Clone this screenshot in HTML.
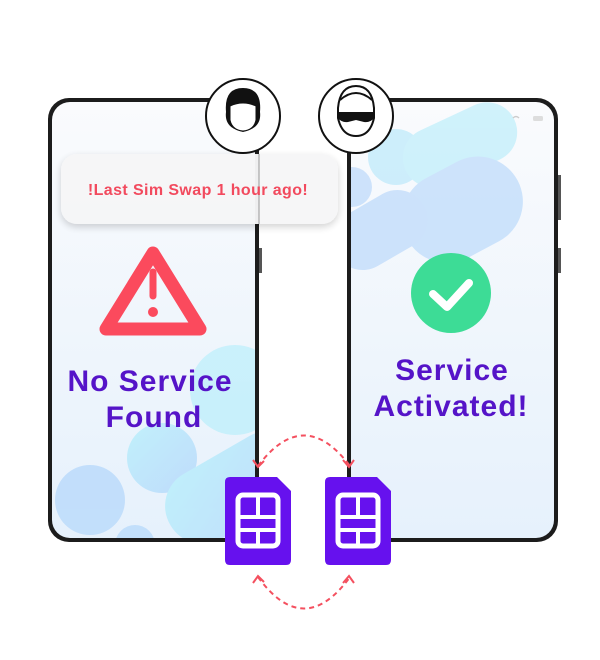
<!DOCTYPE html>
<html><head><style>
body{margin:0;width:600px;height:655px;background:#fff;overflow:hidden;font-family:"Liberation Sans",sans-serif}
</style></head><body>
<svg width="600" height="655" viewBox="0 0 600 655" xmlns="http://www.w3.org/2000/svg">
<defs>
<linearGradient id="scr" x1="0" y1="0" x2="0" y2="1"><stop offset="0" stop-color="#fafbfd"/><stop offset="1" stop-color="#e6f1fc"/></linearGradient>
<linearGradient id="blob" x1="0" y1="0" x2="1" y2="1"><stop offset="0" stop-color="#b3f0fb"/><stop offset="1" stop-color="#b2d4fb"/></linearGradient>
<clipPath id="cl"><rect x="52" y="102" width="203" height="436" rx="18"/></clipPath>
<clipPath id="cr"><rect x="351" y="102" width="203" height="436" rx="18"/></clipPath>
<filter id="sh" x="-20%" y="-30%" width="140%" height="170%"><feDropShadow dx="0" dy="3" stdDeviation="4" flood-color="#000" flood-opacity="0.18"/></filter>
</defs>
<rect x="48" y="98" width="211" height="444" rx="21" fill="#1c1c1c"/>
<rect x="52" y="102" width="203" height="436" rx="18" fill="url(#scr)"/>
<rect x="347" y="98" width="211" height="444" rx="21" fill="#1c1c1c"/>
<rect x="351" y="102" width="203" height="436" rx="18" fill="url(#scr)"/>
<rect x="558" y="175" width="3" height="45" fill="#555"/>
<rect x="558" y="248" width="3" height="25" fill="#555"/>
<rect x="259" y="248" width="3" height="25" fill="#555"/>
<g clip-path="url(#cl)" opacity="0.75">
<circle cx="162" cy="458" r="35" fill="url(#blob)"/>
<circle cx="90" cy="500" r="35" fill="#b6d8fb"/>
<rect x="160" y="450" width="150" height="75" rx="37" transform="rotate(-30 235 487)" fill="url(#blob)"/>
<circle cx="235" cy="390" r="45" fill="#bdeffb"/>
<circle cx="135" cy="545" r="20" fill="#b6d8fb"/>
</g>
<g clip-path="url(#cr)" opacity="0.85">
<circle cx="396" cy="157" r="28" fill="#c6ecfb"/>
<rect x="400" y="115" width="120" height="60" rx="30" transform="rotate(-25 460 145)" fill="#c8f0fb"/>
<rect x="400" y="165" width="125" height="90" rx="45" transform="rotate(-28 462 210)" fill="#c6e0fb"/>
<circle cx="352" cy="187" r="20" fill="#c6dffb"/>
<rect x="330" y="200" width="100" height="60" rx="30" transform="rotate(-30 380 230)" fill="#c6dffb"/>
</g>
<path d="M513 118 q3 -3 6 0" stroke="#ccc" fill="none" stroke-width="1.5"/>
<rect x="533" y="116" width="10" height="5" rx="1.5" fill="#ddd"/>
<rect x="61" y="154" width="277" height="70" rx="16" fill="#f6f6f7" opacity="0.97" filter="url(#sh)"/>
<line x1="259" y1="154" x2="259" y2="224" stroke="#999" stroke-width="2" opacity="0.5"/>
<text x="198" y="195" text-anchor="middle" font-weight="bold" font-size="16" letter-spacing="0.4" fill="#f24a5e">!Last Sim Swap 1 hour ago!</text>
<path d="M153 253 L200 329 H106 Z" fill="none" stroke="#fb4a5d" stroke-width="13" stroke-linejoin="round"/>
<line x1="153" y1="272" x2="153" y2="296" stroke="#fb4a5d" stroke-width="7" stroke-linecap="round"/>
<circle cx="153" cy="312" r="5" fill="#fb4a5d"/>
<text x="150" y="391" text-anchor="middle" font-weight="bold" font-size="30" letter-spacing="1" fill="#5514c8">No Service</text>
<text x="154" y="427" text-anchor="middle" font-weight="bold" font-size="30" letter-spacing="1" fill="#5514c8">Found</text>
<circle cx="451" cy="293" r="40" fill="#3ddc96"/>
<path d="M433 294 L447 307 L469 283" fill="none" stroke="#fff" stroke-width="8" stroke-linecap="round" stroke-linejoin="round"/>
<text x="452" y="380" text-anchor="middle" font-weight="bold" font-size="30" letter-spacing="1" fill="#5514c8">Service</text>
<text x="451" y="416" text-anchor="middle" font-weight="bold" font-size="30" letter-spacing="1" fill="#5514c8">Activated!</text>
<circle cx="243" cy="116" r="37" fill="#fff" stroke="#111" stroke-width="2"/>
<path d="M226 112 q-2 -24 17 -24 q19 0 17 24 q2 16 -17 20 q-19 -4 -17 -20z" fill="#111"/>
<path d="M230 106 q13 -6 26 0 v14 q-2 10 -13 11 q-11 -1 -13 -11z" fill="#fff" stroke="#111"/>
<circle cx="356" cy="116" r="37" fill="#fff" stroke="#111" stroke-width="2"/>
<path d="M338 108 q2 -22 18 -22 q16 0 18 22 v10 q-4 18 -18 18 q-14 0 -18 -18z" fill="#fff" stroke="#111" stroke-width="2"/>
<path d="M338 112 h36 v6 q-4 5 -10 4 l-8 -2 l-8 2 q-6 1 -10 -4z" fill="#111"/>
<path d="M340 100 q16 -14 32 0" fill="none" stroke="#111" stroke-width="2"/>
<path d="M258 466 Q304 405 350 466" fill="none" stroke="#f4505f" stroke-width="2" stroke-dasharray="5 4"/>
<path d="M253 460 l5 7 l6 -6 M343 460 l6 7 l5 -7" fill="none" stroke="#f4505f" stroke-width="2"/>
<path d="M258 577 Q304 640 350 577" fill="none" stroke="#f4505f" stroke-width="2" stroke-dasharray="5 4"/>
<path d="M253 583 l5 -7 l6 6 M343 583 l6 -7 l5 7" fill="none" stroke="#f4505f" stroke-width="2"/>
<g id="sim">
<path d="M230 477 h47 l14 14 v69 q0 5 -5 5 h-56 q-5 0 -5 -5 v-78 q0 -5 5 -5z" fill="#6611ee"/>
<rect x="238" y="495" width="40" height="51" rx="5" fill="none" stroke="#fff" stroke-width="5"/>
<line x1="238" y1="517" x2="278" y2="517" stroke="#fff" stroke-width="4"/>
<line x1="238" y1="530" x2="278" y2="530" stroke="#fff" stroke-width="4"/>
<line x1="258" y1="495" x2="258" y2="517" stroke="#fff" stroke-width="4"/>
<line x1="258" y1="530" x2="258" y2="546" stroke="#fff" stroke-width="4"/>
</g>
<use href="#sim" transform="translate(100 0)"/>
</svg>
</body></html>
